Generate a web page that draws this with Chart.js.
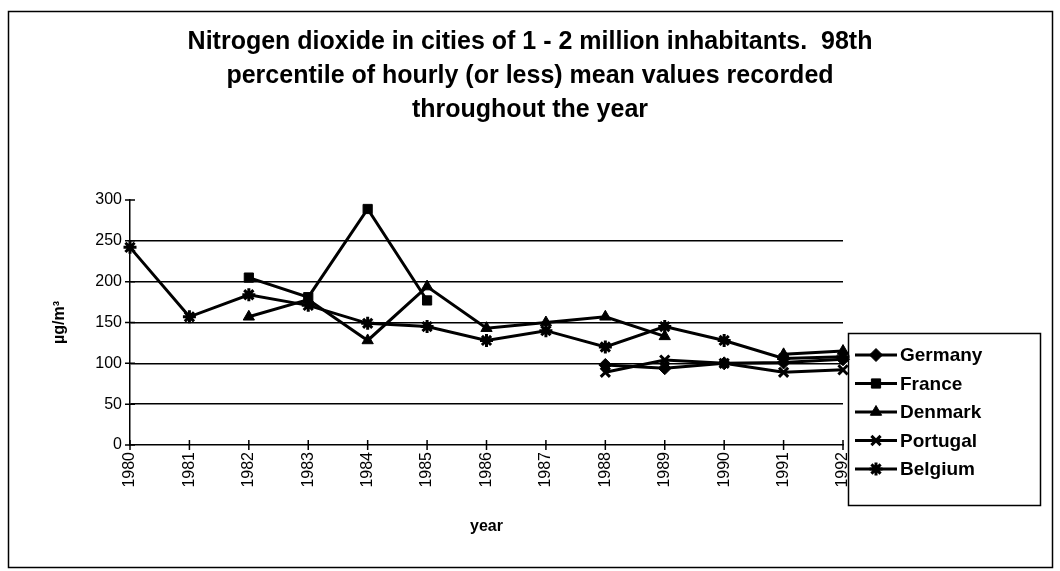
<!DOCTYPE html>
<html>
<head>
    <title>Nitrogen dioxide</title>
    <script src="https://cdn.jsdelivr.net/npm/chart.js@4.4.0/dist/chart.umd.min.js"></script>
    <style>
        body { margin: 0; background: #fff; }
        canvas { display: block; }
    </style>
</head>
<body>
    <canvas id="no2Chart" width="1060" height="571"></canvas>

    <script>
        const years = ['1980', '1981', '1982', '1983', '1984', '1985', '1986',
                       '1987', '1988', '1989', '1990', '1991', '1992'];
        const germany  = [null, null, null, null, null, null, null, null, 98, 94, 100, 101, 105];
        const france   = [null, null, 205, 181, 289, 177, null, null, null, null, null, null, null];
        const denmark  = [null, null, 157, 178, 128, 194, 143, 150, 157, 133, null, 111, 115];
        const portugal = [null, null, null, null, null, null, null, null, 89, 104, 100, 89, 92];
        const belgium  = [242, 157, 184, 171, 149, 145, 128, 140, 120, 145, 128, 106, 108];
        const yTicks = [0, 50, 100, 150, 200, 250, 300];

        const FONT = "'Liberation Sans', Arial, sans-serif";

        function series(label, data, style) {
            return {
                label: label,
                data: data,
                borderColor: '#000',
                backgroundColor: '#000',
                borderWidth: 3,
                pointStyle: style,
                pointRadius: 6.5,
                pointBorderWidth: (style === 'star' || style === 'crossRot') ? 3 : 1,
                spanGaps: false,
                tension: 0
            };
        }

        // white page + outer frame
        const framePlugin = {
            id: 'frame',
            beforeDraw(chart) {
                const ctx = chart.ctx;
                ctx.save();
                ctx.fillStyle = '#fff';
                ctx.fillRect(0, 0, chart.width, chart.height);
                ctx.restore();
            },
            afterDraw(chart) {
                const ctx = chart.ctx;
                ctx.save();
                ctx.strokeStyle = '#000';
                ctx.lineWidth = 1.5;
                ctx.strokeRect(8.5, 11.5, 1044, 556);
                ctx.restore();
            }
        };

        // little crosses where ticks meet the axes
        const tickPlugin = {
            id: 'crossTicks',
            beforeDatasetsDraw(chart) {
                const ctx = chart.ctx;
                const x = chart.scales.x, y = chart.scales.y;
                ctx.save();
                ctx.strokeStyle = '#000';
                ctx.lineWidth = 1.5;
                ctx.beginPath();
                yTicks.forEach(v => {
                    const py = y.getPixelForValue(v);
                    ctx.moveTo(x.left - 5, py);
                    ctx.lineTo(x.left + 5, py);
                });
                years.forEach((yr, i) => {
                    const px = x.getPixelForValue(i);
                    ctx.moveTo(px, y.bottom - 5);
                    ctx.lineTo(px, y.bottom + 5);
                });
                ctx.stroke();
                ctx.restore();
            }
        };

        // legend box with line + marker samples
        const legendPlugin = {
            id: 'boxLegend',
            afterDraw(chart) {
                const ctx = chart.ctx;
                const bx = 848, by = 333, bw = 192, bh = 172;
                ctx.save();
                ctx.strokeStyle = '#000';
                ctx.lineWidth = 1.5;
                ctx.strokeRect(bx + 0.5, by + 0.5, bw, bh);
                ctx.font = 'bold 19px ' + FONT;
                ctx.textBaseline = 'middle';
                ctx.fillStyle = '#000';
                chart.data.datasets.forEach((ds, i) => {
                    const ly = by + 22 + i * 28.5;
                    ctx.lineWidth = 3;
                    ctx.beginPath();
                    ctx.moveTo(bx + 7, ly);
                    ctx.lineTo(bx + 49, ly);
                    ctx.stroke();
                    ctx.lineWidth = ds.pointBorderWidth;
                    Chart.helpers.drawPoint(ctx, {pointStyle: ds.pointStyle, radius: 6.5, rotation: 0, borderWidth: ds.pointBorderWidth}, bx + 28, ly);
                    ctx.fillText(ds.label, bx + 52, ly + 1);
                });
                ctx.restore();
            }
        };

        new Chart(document.getElementById('no2Chart'), {
            type: 'line',
            data: {
                labels: years,
                datasets: [
                    series('Germany', germany, 'rectRot'),
                    series('France', france, 'rect'),
                    series('Denmark', denmark, 'triangle'),
                    series('Portugal', portugal, 'crossRot'),
                    series('Belgium', belgium, 'star')
                ]
            },
            options: {
                responsive: false,
                animation: false,
                layout: { padding: 0 },
                plugins: {
                    legend: { display: false },
                    tooltip: { enabled: false },
                    title: {
                        display: true,
                        text: ['Nitrogen dioxide in cities of 1 - 2 million inhabitants.  98th',
                               'percentile of hourly (or less) mean values recorded',
                               'throughout the year'],
                        color: '#000',
                        font: { family: FONT, size: 25, weight: 'bold', lineHeight: '34px' },
                        padding: { top: 25, bottom: 73 }
                    }
                },
                scales: {
                    x: {
                        offset: false,
                        grid: { display: false, drawTicks: false },
                        border: { display: true, color: '#000', width: 1.5 },
                        ticks: {
                            color: '#000',
                            font: { family: FONT, size: 16 },
                            minRotation: 90,
                            maxRotation: 90,
                            padding: 7,
                            autoSkip: false
                        },
                        title: {
                            display: true,
                            text: 'year',
                            color: '#000',
                            font: { family: FONT, size: 16, weight: 'bold' },
                            padding: { top: 4, bottom: 35 }
                        },
                        afterFit(scale) { scale.height = 126; }
                    },
                    y: {
                        min: 0,
                        max: 300,
                        grid: {
                            drawTicks: false,
                            color: ctx => (ctx.tick && ctx.tick.value > 0 && ctx.tick.value < 300) ? '#000' : 'rgba(0,0,0,0)',
                            lineWidth: 1.5
                        },
                        border: { display: true, color: '#000', width: 1.5 },
                        ticks: {
                            stepSize: 50,
                            color: '#000',
                            font: { family: FONT, size: 16 },
                            padding: 8
                        },
                        title: {
                            display: true,
                            text: 'µg/m³',
                            color: '#000',
                            font: { family: FONT, size: 16, weight: 'bold' },
                            padding: { top: 50, bottom: 0 }
                        },
                        afterFit(scale) { scale.width = 130; }
                    },
                    spacer: {
                        position: 'right',
                        display: true,
                        grid: { display: false, drawTicks: false },
                        border: { display: false },
                        ticks: { display: false },
                        afterFit(scale) { scale.width = 217; }
                    }
                }
            },
            plugins: [framePlugin, tickPlugin, legendPlugin]
        });
    </script>
</body>
</html>
